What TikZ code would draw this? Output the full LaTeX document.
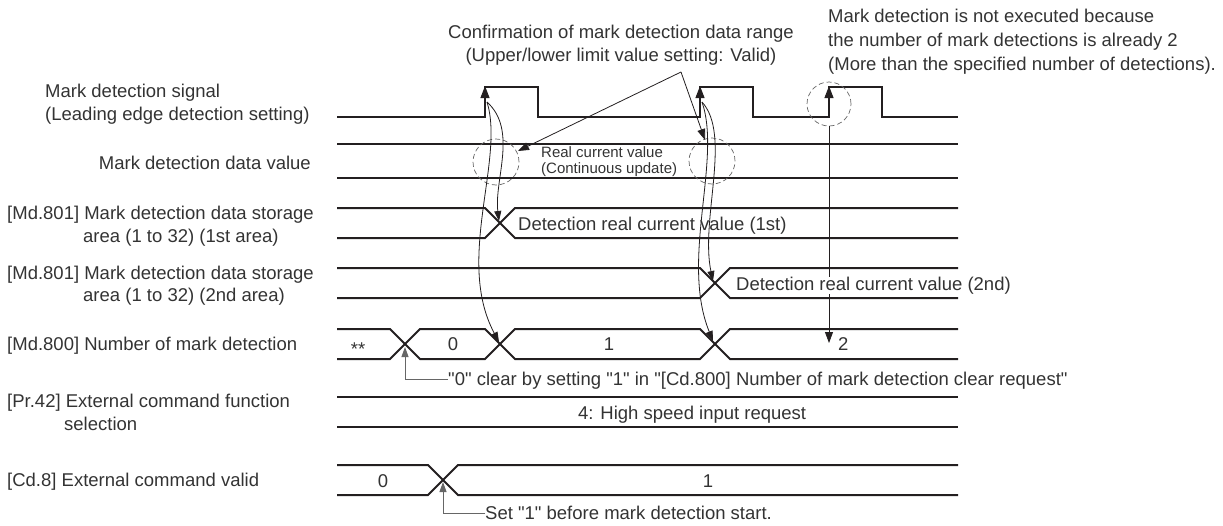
\documentclass[tikz,border=0pt]{standalone}
\usepackage{fontspec}
\setmainfont{Liberation Sans}[Ligatures=TeXOff]
\usetikzlibrary{arrows.meta}
\definecolor{ln}{HTML}{231F20}
\definecolor{tx}{HTML}{333333}
\definecolor{gr}{HTML}{666666}
\begin{document}
\begin{tikzpicture}[x=1pt,y=-1pt,
  sig/.style={line width=2pt, draw=ln},
  conn/.style={line width=0.8pt, draw=ln},
  gconn/.style={line width=0.9pt, draw=gr},
  txt/.style={font=\fontsize{18.5}{23}\selectfont, text=tx, inner sep=0pt},
  smalltxt/.style={font=\fontsize{15}{16}\selectfont, text=tx, inner sep=0pt},
  tipup/.style={-{Triangle[length=12pt,width=9pt]}},
  ctip/.style={-{Triangle[length=10pt,width=7pt]}},
  atip/.style={-{Triangle[length=11pt,width=8pt]}},
  circ/.style={draw=gr, line width=0.7pt, dash pattern=on 5pt off 3pt},
]
\useasboundingbox (0,0) rectangle (1223,525);

% ---------- left labels ----------
\node[txt, anchor=base west] (l1a) at (45,97) {Mark detection signal};
\node[txt, anchor=base west] (l1b) at (45,120) {(Leading edge detection setting)};
\node[txt, anchor=base east] (l2) at (311,169) {Mark detection data value};
\node[txt, anchor=base west] (l3a) at (7,219) {[Md.801] Mark detection data storage};
\node[txt, anchor=base west] (l3b) at (83,242) {area (1 to 32) (1st area)};
\node[txt, anchor=base west] (l4a) at (7,279) {[Md.801] Mark detection data storage};
\node[txt, anchor=base west] (l4b) at (83,301) {area (1 to 32) (2nd area)};
\node[txt, anchor=base west] (l5) at (7,350) {[Md.800] Number of mark detection};
\node[txt, anchor=base west] (l6a) at (7,407) {[Pr.42] External command function};
\node[txt, anchor=base west] (l6b) at (64,430) {selection};
\node[txt, anchor=base west] (l7) at (7,486) {[Cd.8] External command valid};

% ---------- top annotations ----------
\node[txt, anchor=base] (cfa) at (621,38) {Confirmation of mark detection data range};
\node[txt, anchor=base] (cfb) at (621,61) {(Upper/lower limit value setting: Valid)};
\node[txt, anchor=base west] (nea) at (828,22) {Mark detection is not executed because};
\node[txt, anchor=base west] (neb) at (828,46) {the number of mark detections is already 2};
\node[txt, anchor=base west] (nec) at (828,70) {(More than the specified number of detections).};

% ---------- mark detection signal ----------
\draw[sig] (337,117) -- (485,117) -- (485,87) -- (538,87) -- (538,117)
  -- (700,117) -- (700,87) -- (753,87) -- (753,117)
  -- (829,117) -- (829,87) -- (882,87) -- (882,117) -- (958,117);
\draw[tipup, line width=1pt, draw=ln] (485,104) -- (485,86);
\draw[tipup, line width=1pt, draw=ln] (700,104) -- (700,86);
\draw[tipup, line width=1pt, draw=ln] (829,104) -- (829,86);

% ---------- mark detection data value ----------
\draw[sig] (337,144) -- (958,144);
\draw[sig] (337,178) -- (958,178);

% ---------- Md.801 1st ----------
\draw[sig] (337,208) -- (485,208) -- (515,238) -- (958,238);
\draw[sig] (337,238) -- (485,238) -- (515,208) -- (958,208);

% ---------- Md.801 2nd ----------
\draw[sig] (337,268) -- (700,268) -- (730,298) -- (958,298);
\draw[sig] (337,298) -- (700,298) -- (730,268) -- (958,268);

% ---------- Md.800 ----------
\draw[sig] (337,329) -- (390,329) -- (420,359) -- (485,359) -- (515,329) -- (700,329) -- (730,359) -- (958,359);
\draw[sig] (337,359) -- (390,359) -- (420,329) -- (485,329) -- (515,359) -- (700,359) -- (730,329) -- (958,329);

% ---------- Pr.42 ----------
\draw[sig] (337,397) -- (958,397);
\draw[sig] (337,427) -- (958,427);

% ---------- Cd.8 ----------
\draw[sig] (337,465) -- (428,465) -- (458,495) -- (958,495);
\draw[sig] (337,495) -- (428,495) -- (458,465) -- (958,465);

% ---------- dashed circles ----------
\draw[circ] (496,162) circle[radius=23pt];
\draw[circ] (712,161) circle[radius=23pt];
\draw[circ] (829,104) circle[radius=22pt];

% ---------- curved arrows ----------
\coordinate (s1) at (487,102);
\coordinate (s2) at (702,102);
\coordinate (x1a) at (499,221);
\coordinate (x1b) at (499,342);
\coordinate (x2a) at (713,281);
\coordinate (x2b) at (713,341);
\draw[conn, ctip] (s1) .. controls (518,130) and (494,180) .. (x1a);
\draw[conn, ctip] (s1) .. controls (505,160) and (455,260) .. (x1b);
\draw[conn, ctip] (s2) .. controls (732,135) and (700,220) .. (x2a);
\draw[conn, ctip] (s2) .. controls (722,160) and (680,260) .. (x2b);

% ---------- confirmation arrows ----------
\coordinate (cf) at (681,72);
\coordinate (cft1) at (518,151);
\coordinate (cft2) at (705,140);
\draw[conn, atip] (cf) -- (cft1);
\draw[conn, atip] (cf) -- (cft2);

% ---------- not executed arrow ----------
\coordinate (ne0) at (829,126);
\coordinate (ne1) at (829,343);
\draw[conn, atip] (ne0) -- (ne1);

% ---------- texts in timing lines ----------
\node[smalltxt, anchor=base west] (rcv1) at (541,157) {Real current value};
\node[smalltxt, anchor=base west] (rcv2) at (541,173) {(Continuous update)};
\node[txt, anchor=base west] (d1) at (518,230) {Detection real current value (1st)};
\node[txt, anchor=base west, fill=white] (d2) at (736,290) {Detection real current value (2nd)};
\node[txt, anchor=base] (ast) at (358,355) {**};
\node[txt, anchor=base] (v0) at (453,350) {0};
\node[txt, anchor=base] (v1) at (609,350) {1};
\node[txt, anchor=base west] (v2) at (838,350) {2};
\node[txt, anchor=base west] (clr) at (448,385) {"0" clear by setting "1" in "[Cd.800] Number of mark detection clear request"};
\node[txt, anchor=base west] (hs) at (578,419) {4: High speed input request};
\node[txt, anchor=base] (c0) at (383,487) {0};
\node[txt, anchor=base] (c1) at (708,487) {1};
\node[txt, anchor=base west] (set) at (485,519) {Set "1" before mark detection start.};

% ---------- elbow connectors ----------
\coordinate (e1) at (405,379);
\coordinate (e1t) at (405,347);
\draw[gconn] (clr.west |- e1) -- (e1);
\draw[gconn, ctip] (e1) -- (e1t);
\coordinate (e2) at (443,513);
\coordinate (e2t) at (443,482);
\draw[gconn] (set.west |- e2) -- (e2);
\draw[gconn, ctip] (e2) -- (e2t);
\end{tikzpicture}
\end{document}
